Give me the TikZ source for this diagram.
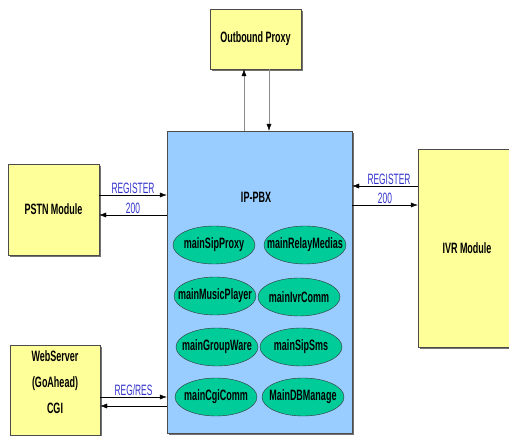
\documentclass[tikz,border=0pt]{standalone}
\usepackage{fontspec}
\usetikzlibrary{shapes.geometric,shadows,arrows.meta}
\newfontfamily\boxfont{Liberation Sans Bold}[FakeStretch=0.6]
\newfontfamily\msgfont{Liberation Sans}[FakeStretch=0.56]
\definecolor{modyellow}{HTML}{FFFF99}
\definecolor{pbxblue}{HTML}{99CCFF}
\definecolor{taskgreen}{HTML}{00CC99}
\definecolor{msgblue}{HTML}{3333CC}

\begin{document}
\begin{tikzpicture}[x=1pt,y=-1pt,
  boxtext/.style={font=\boxfont\fontsize{15}{17}\selectfont},
  module/.style={shape=rectangle,draw=black!70,fill=modyellow,inner sep=0pt,boxtext,
    drop shadow={shadow xshift=2pt,shadow yshift=-2pt,fill=black!55,opacity=1}},
  task/.style={shape=ellipse,draw=black!80,fill=taskgreen,inner sep=0pt,
    minimum width=82pt,minimum height=38pt},
  msg/.style={font=\msgfont\fontsize{15}{17}\selectfont,text=msgblue,inner sep=1pt},
  link/.style={-{Latex[length=7pt,width=5pt]},draw=black},
  proxylink/.style={-{Latex[length=7pt,width=5pt,color=black]},draw=black!45}]
\useasboundingbox (0,0) rectangle (509,436);

% modules
\node[module,minimum width=91pt,minimum height=60pt] (proxy) at (255.5,39) {Outbound Proxy};
\node[module,minimum width=91pt,minimum height=91pt] (pstn) at (53.5,209.5) {PSTN Module};
\node[module,minimum width=98pt,minimum height=198pt] (ivr) at (467,248) {IVR Module};
\node[module,minimum width=90pt,minimum height=90pt] (web) at (55,390) {};
\node[boxtext,align=center] (webtext) at (55,382) {WebServer\\[9pt](GoAhead)\\[9pt]CGI};

% IP-PBX
\node[shape=rectangle,draw=black!70,fill=pbxblue,minimum width=185pt,minimum height=302pt,
  drop shadow={shadow xshift=2pt,shadow yshift=-2pt,fill=black!55,opacity=1}] (pbx) at (259.5,282) {};
\node[boxtext] (pbxname) at (256,197) {IP-PBX};

\node[task,label={[boxtext]center:mainSipProxy}] (sipproxy) at (214,245) {};
\node[task,label={[boxtext]center:mainRelayMedias}] (relay) at (305,245) {};
\node[task,label={[boxtext]center:mainMusicPlayer}] (music) at (215,296) {};
\node[task,label={[boxtext]center:mainIvrComm}] (ivrcomm) at (299,297) {};
\node[task,label={[boxtext]center:mainGroupWare}] (groupware) at (217,347) {};
\node[task,label={[boxtext]center:mainSipSms}] (sipsms) at (301,347) {};
\node[task,label={[boxtext]center:mainCgiComm}] (cgicomm) at (216,397) {};
\node[task,label={[boxtext]center:MainDBManage}] (dbmanage) at (303,397) {};

% messages
\draw[proxylink] (pbx.north -| 244,0) -- (proxy.south -| 244,0);
\draw[proxylink] (proxy.south -| 269,0) -- (pbx.north -| 269,0);
\draw[link] (pstn.east |- 0,195) -- (pbx.west |- 0,195) node[msg,midway,above] {REGISTER};
\draw[link] (pbx.west |- 0,215) -- (pstn.east |- 0,215) node[msg,midway,above] {200};
\draw[link] (ivr.west |- 0,186) -- (pbx.east |- 0,186) node[msg,midway,above,xshift=4pt] {REGISTER};
\draw[link] (pbx.east |- 0,205) -- (ivr.west |- 0,205) node[msg,midway,above] {200};
\draw[link] (web.east |- 0,397) -- (pbx.west |- 0,397) node[msg,midway,above] {REG/RES};
\draw[link] (pbx.west |- 0,406) -- (web.east |- 0,406);
\end{tikzpicture}
\end{document}
